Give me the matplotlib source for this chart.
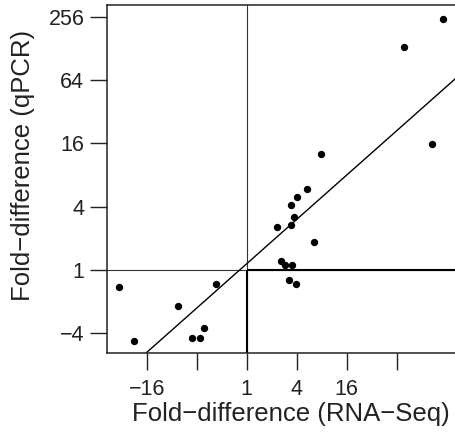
import matplotlib
matplotlib.use('Agg')
import matplotlib.pyplot as plt

plt.rcParams['font.family'] = ['Liberation Sans', 'DejaVu Sans']

# log2 fold-differences
rna_log2 = [-5.11, -4.51, -2.74, -2.19, -1.87, -1.71, -1.23,
            2.42, 2.00, 1.76, 1.90, 1.76, 1.22, 2.70,
            1.36, 1.53, 1.81, 1.69, 1.97, 2.98, 6.28, 7.40, 7.84]
qpcr_log2 = [-0.53, -2.24, -1.13, -2.16, -2.15, -1.84, -0.44,
             2.55, 2.32, 2.06, 1.67, 1.42, 1.35, 0.89,
             0.27, 0.17, 0.17, -0.33, -0.43, 3.67, 7.04, 3.99, 7.93]

xtick_pos = [-4, -2, 0, 2, 4, 6]
xtick_lab = ['\u221216', '', '1', '4', '16', '']
ytick_pos = [-2, 0, 2, 4, 6, 8]
ytick_lab = ['\u22124', '1', '4', '16', '64', '256']

# regression line y = a + b*x
fit_a = 0.2
fit_b = 0.7

xlim = (-5.58, 8.4)
ylim = (-2.62, 8.37)

fig = plt.figure(figsize=(4.55, 4.32), dpi=100)
ax = fig.add_axes([0.2358, 0.1829, 0.768, 0.8056])

ax.scatter(rna_log2, qpcr_log2, s=28, color='black', linewidths=0, zorder=3)

# thin reference lines through 1
ax.axhline(0, color='#333333', lw=0.8, zorder=1)
ax.axvline(0, color='#333333', lw=0.8, zorder=1)
# heavier segments in the lower-right quadrant
ax.hlines(0, 0, xlim[1], color='black', lw=1.5, zorder=2)
ax.vlines(0, ylim[0], 0, color='black', lw=1.5, zorder=2)

ax.axline((0, fit_a), slope=fit_b, color='black', lw=1.0, zorder=2)

ax.set_xlim(*xlim)
ax.set_ylim(*ylim)

ax.set_xticks(xtick_pos)
ax.set_xticklabels(xtick_lab)
ax.set_yticks(ytick_pos)
ax.set_yticklabels(ytick_lab)

ax.tick_params(axis='both', length=12.5, width=1.0, color='#222222',
               labelsize=15.5, labelcolor='#222222')
ax.tick_params(axis='x', pad=6)
ax.tick_params(axis='y', pad=4)

for side in ['left', 'top', 'bottom']:
    ax.spines[side].set_linewidth(1.1)
    ax.spines[side].set_color('#222222')
ax.spines['right'].set_visible(False)

fig.text(291 / 455, 1 - 414 / 432, 'Fold\u2212difference (RNA\u2212Seq)',
         ha='center', va='center', fontsize=18.5, color='#222222')
fig.text(23 / 455, 1 - 165 / 432, 'Fold\u2212difference (qPCR)',
         ha='center', va='center', rotation=90, fontsize=18.5, color='#222222')

fig.savefig('out.png', dpi=100)
